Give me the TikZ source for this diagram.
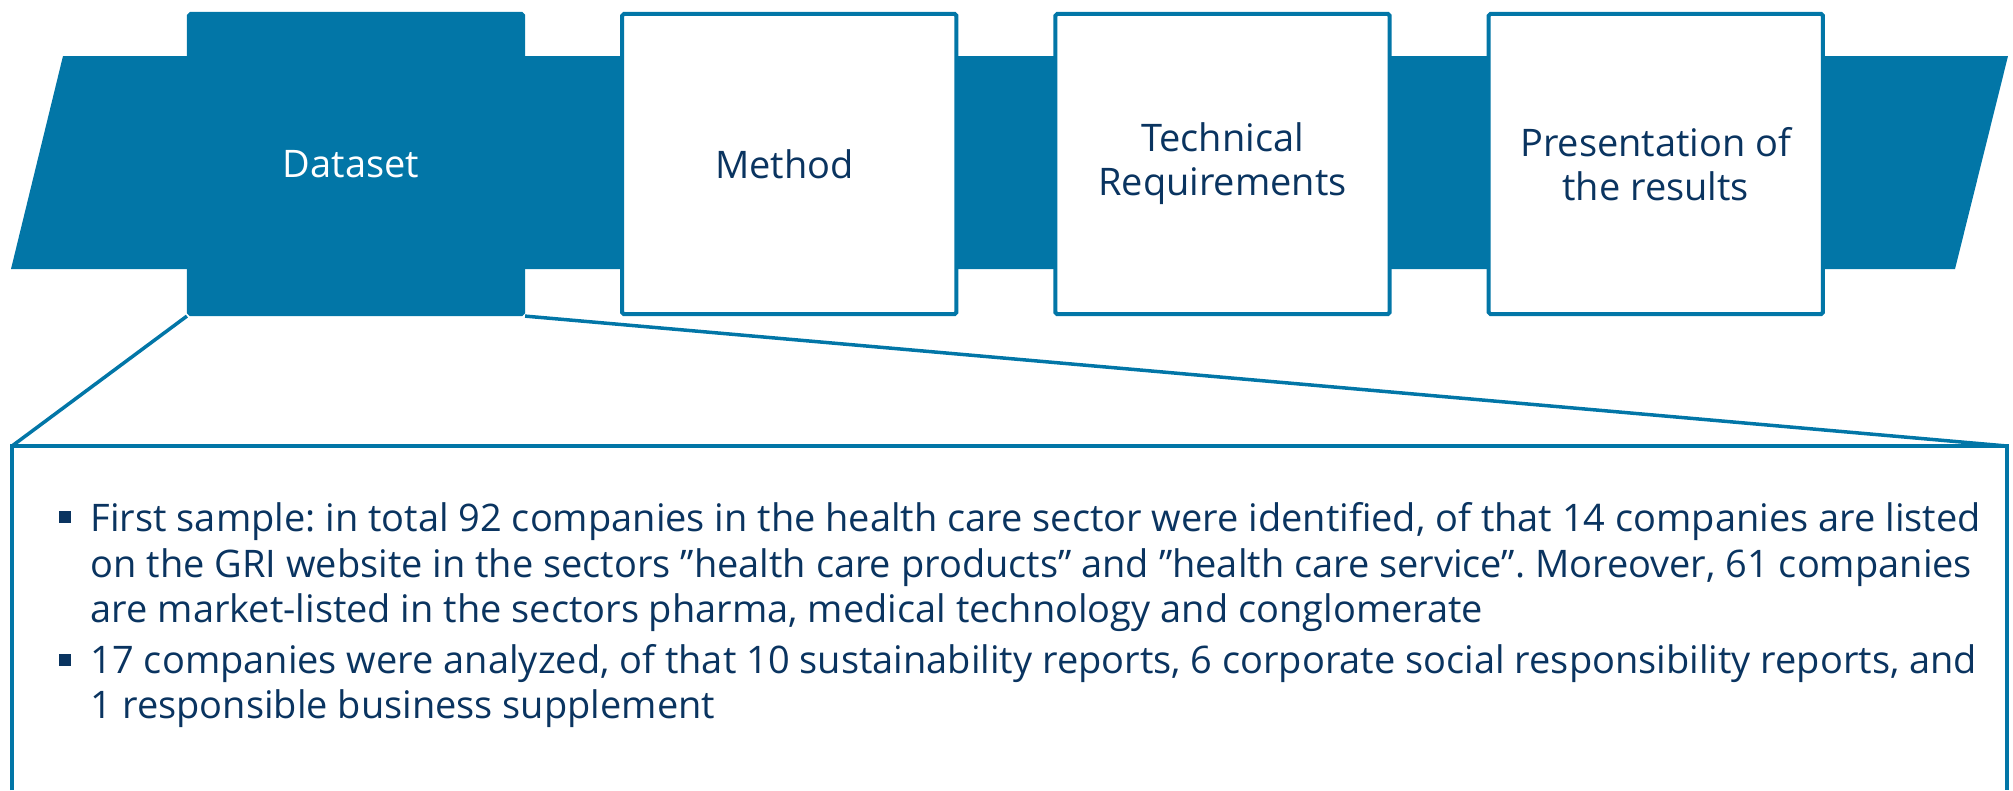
\documentclass[tikz,border=0pt]{standalone}
\usepackage{fontspec}
\setmainfont{Open Sans}
\usetikzlibrary{positioning}
\usepackage{xcolor}
\definecolor{bandblue}{RGB}{2,118,167}
\definecolor{textnavy}{RGB}{10,52,96}
\frenchspacing

\begin{document}
\begin{tikzpicture}[x=0.01cm, y=-0.01cm,
    stage/.style={
        rectangle,
        rounded corners=0.5pt,
        inner sep=0pt,
        draw=bandblue,
        line width=0.04cm,
        fill=white,
        text=textnavy,
        align=center,
        minimum width=3.34cm,
        minimum height=3.00cm,
        font=\fontsize{10.8pt}{12.5pt}\selectfont
    },
    bullet/.style={
        rectangle,
        inner sep=0pt,
        fill=textnavy,
        minimum size=0.12cm
    },
    item/.style={
        inner sep=0pt,
        anchor=base west,
        align=left,
        text=textnavy,
        font=\fontsize{10.8pt}{12.8pt}\selectfont
    },
    zoomline/.style={bandblue, line width=0.035cm}
]

    \useasboundingbox (0,0) rectangle (2013,790);

    % band behind the stages
    \fill[bandblue] (63,56) -- (2008,56) -- (1955,269) -- (11,269) -- cycle;



    \node (dataset) [stage, fill=bandblue, text=white, shift={(356,164)}]
    {
        Dataset
    };

    \node (method) [stage, right=0.95cm of dataset]
    {
        Method
    };

    \node (technical_requirements) [stage, right=0.95cm of method]
    {
        Technical\\Requirements
    };

    \node (presentation_results) [stage, right=0.95cm of technical_requirements]
    {
        Presentation of\\the results
    };



    % detail box, open at the bottom
    \coordinate (details_nw) at (12,446);
    \coordinate (details_ne) at (2007,446);
    \coordinate (details_sw) at (12,790);
    \coordinate (details_se) at (2007,790);

    \draw[bandblue, line width=0.04cm] (details_sw) -- (details_nw) -- (details_ne) -- (details_se);

    \draw[zoomline] (dataset.south west) to (details_nw);
    \draw[zoomline] (dataset.south east) to (details_ne);



    % base west of a multi-line node sits on its last line
    \node (bullet_first_sample) [bullet, shift={(65,517)}] {};
    \node (first_sample) [item, shift={(90,622)}]
    {
        First sample: in total 92 companies in the health care sector were identified, of that 14 companies are listed\\
        on the GRI website in the sectors ”health care products” and ”health care service”. Moreover, 61 companies\\
        are market-listed in the sectors pharma, medical technology and conglomerate
    };

    \node (bullet_analyzed) [bullet, shift={(65,660)}] {};
    \node (analyzed) [item, shift={(90,718)}]
    {
        17 companies were analyzed, of that 10 sustainability reports, 6 corporate social responsibility reports, and\\
        1 responsible business supplement
    };


\end{tikzpicture}
\end{document}
